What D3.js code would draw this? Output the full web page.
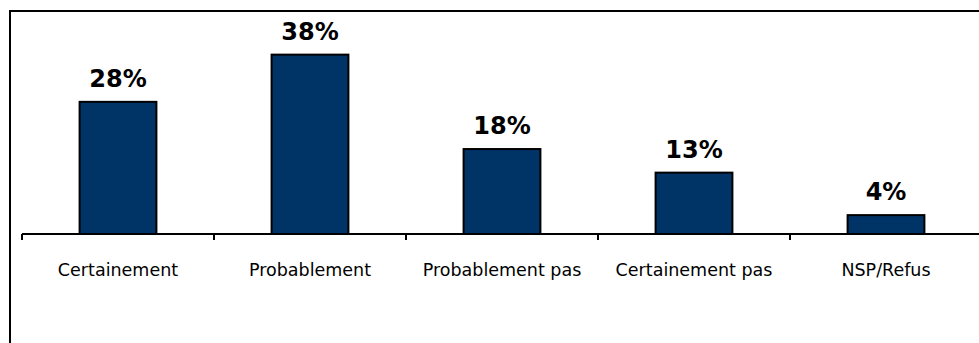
<!DOCTYPE html>
<html>
<head>
<meta charset="utf-8">
<script src="https://cdn.jsdelivr.net/npm/d3@7"></script>
<style>
  html, body { margin: 0; padding: 0; background: #fff; }
  svg { display: block; }
</style>
</head>
<body>
<svg id="chart" width="979" height="343"></svg>
<script>
const categories = ["Certainement", "Probablement", "Probablement pas", "Certainement pas", "NSP/Refus"];
const values = [28, 38, 18, 13, 4];
const valueLabels = ["28%", "38%", "18%", "13%", "4%"];

const svg = d3.select("#chart");

// outer frame (extends beyond the visible window on right and bottom)
svg.append("rect")
  .attr("x", 10).attr("y", 11)
  .attr("width", 1000).attr("height", 400)
  .attr("fill", "none").attr("stroke", "#000").attr("stroke-width", 2);

const x = d3.scaleBand()
  .domain(categories)
  .range([22, 982])
  .paddingInner(0.6)
  .paddingOuter(0.3);

const y = d3.scaleLinear().domain([0, 40]).range([234, 45.2]);

// bars
svg.append("g").selectAll("rect")
  .data(categories)
  .join("rect")
  .attr("x", d => x(d))
  .attr("y", (d, i) => y(values[i]))
  .attr("width", x.bandwidth())
  .attr("height", (d, i) => y(0) - y(values[i]))
  .attr("fill", "#003366")
  .attr("stroke", "#000")
  .attr("stroke-width", 2);

// value labels
svg.append("g").selectAll("text")
  .data(categories)
  .join("text")
  .attr("x", d => x(d) + x.bandwidth() / 2)
  .attr("y", (d, i) => y(values[i]) - 15)
  .attr("text-anchor", "middle")
  .attr("font-family", "DejaVu Sans, Verdana, sans-serif")
  .attr("font-weight", "bold")
  .attr("font-size", 24)
  .attr("fill", "#000")
  .text((d, i) => valueLabels[i]);

// x axis
const axisG = svg.append("g");
axisG.append("line")
  .attr("x1", 22).attr("x2", 990)
  .attr("y1", y(0)).attr("y2", y(0))
  .attr("stroke", "#000").attr("stroke-width", 2);

const step = x.step();
const tickPos = d3.range(categories.length + 1).map(i => x(categories[0]) - x.paddingOuter() * step + i * step);
axisG.selectAll("line.tick")
  .data(tickPos)
  .join("line")
  .attr("class", "tick")
  .attr("x1", d => d).attr("x2", d => d)
  .attr("y1", y(0)).attr("y2", y(0) + 6)
  .attr("stroke", "#000").attr("stroke-width", 2);

axisG.selectAll("text")
  .data(categories)
  .join("text")
  .attr("x", d => x(d) + x.bandwidth() / 2)
  .attr("y", 276)
  .attr("text-anchor", "middle")
  .attr("font-family", "DejaVu Sans, Verdana, sans-serif")
  .attr("font-size", 17.5)
  .attr("fill", "#000")
  .text(d => d);
</script>
</body>
</html>
